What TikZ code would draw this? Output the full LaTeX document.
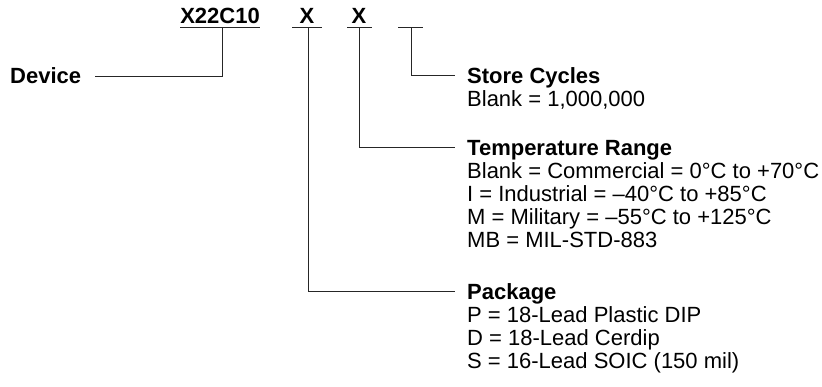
\documentclass[tikz,border=0pt]{standalone}
\usepackage{fontspec}
\setmainfont{Liberation Sans}
\begin{document}
\begin{tikzpicture}[x=1pt,y=-1pt,
  lbl/.style={anchor=base west,inner sep=0pt,font=\fontsize{22}{23}\selectfont},
  hd/.style={lbl,font=\fontsize{22}{23}\selectfont\bfseries},
  top/.style={anchor=base,inner sep=0pt,font=\fontsize{22}{23}\selectfont\bfseries},
  ln/.style={line width=0.9pt,black!85}]
\useasboundingbox (0,0) rectangle (822,386);
% top code
\node[top] (part) at (220,23) {X22C10};
\node[top] (xa) at (307,23) {X};
\node[top] (xb) at (359,23) {X};
% underline end points
\coordinate (u0a) at (180,27); \coordinate (u0b) at (260,27);
\coordinate (u1a) at (292,27); \coordinate (u1b) at (322,27);
\coordinate (u2a) at (347,27); \coordinate (u2b) at (372,27);
\coordinate (u3a) at (398,27); \coordinate (u3b) at (423,27);
\draw[ln] (u0a) -- (u0b);
\draw[ln] (u1a) -- (u1b);
\draw[ln] (u2a) -- (u2b);
\draw[ln] (u3a) -- (u3b);
% tap points and free ends
\coordinate (t0) at (222,27); \coordinate (d0) at (95,76);
\coordinate (t1) at (308,27); \coordinate (e1) at (455,291);
\coordinate (t2) at (359,27); \coordinate (e2) at (455,147);
\coordinate (t3) at (411,27); \coordinate (e3) at (455,75);
% left label
\node[hd,anchor=base west] (dev) at (10,83) {Device};
% right labels
\node[hd] (sc) at (467,83) {Store Cycles};
\node[lbl] (sc1) at (467,106) {Blank = 1,000,000};
\node[hd] (tr) at (467,155) {Temperature Range};
\node[lbl] (tr1) at (467,178) {Blank = Commercial = 0°C to +70°C};
\node[lbl] (tr2) at (467,201) {I = Industrial = –40°C to +85°C};
\node[lbl] (tr3) at (467,224) {M = Military = –55°C to +125°C};
\node[lbl] (tr4) at (467,247) {MB = MIL-STD-883};
\node[hd] (pk) at (467,299) {Package};
\node[lbl] (pk1) at (467,322) {P = 18-Lead Plastic DIP};
\node[lbl] (pk2) at (467,345) {D = 18-Lead Cerdip};
\node[lbl] (pk3) at (467,368) {S = 16-Lead SOIC (150 mil)};
% connectors
\draw[ln] (t0) |- (d0);
\draw[ln] (t1) |- (e1);
\draw[ln] (t2) |- (e2);
\draw[ln] (t3) |- (e3);
\end{tikzpicture}
\end{document}
